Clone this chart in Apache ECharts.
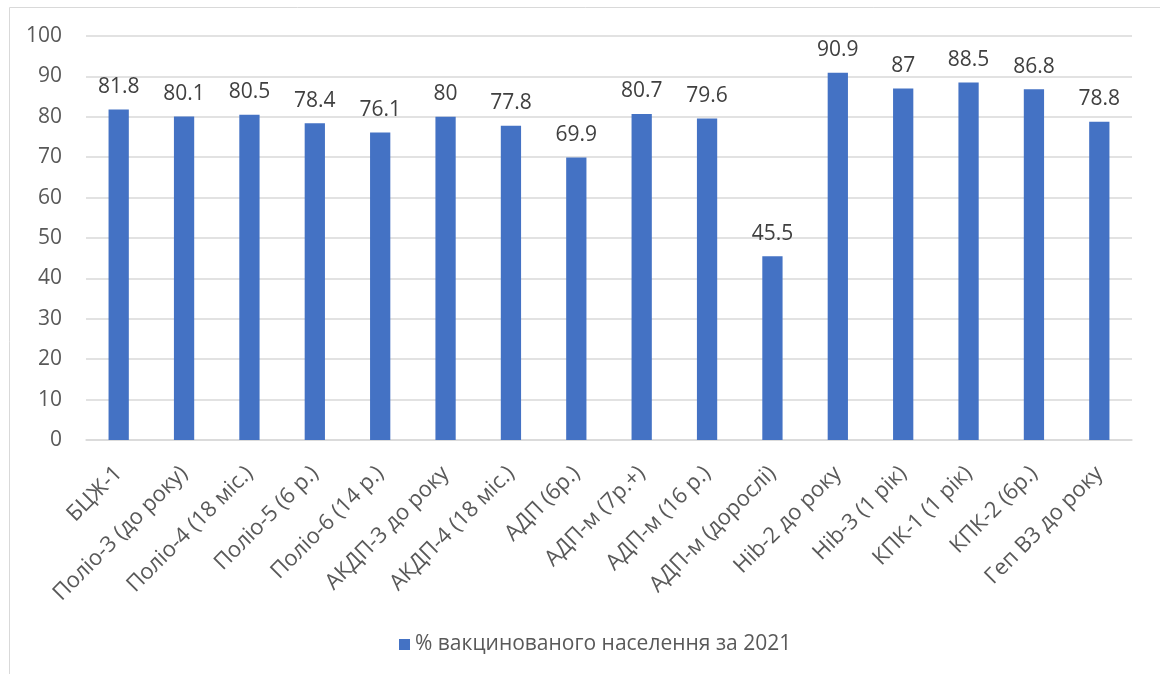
<!DOCTYPE html>
<html>
<head>
<meta charset="utf-8">
<script src="https://cdn.jsdelivr.net/npm/echarts@6/dist/echarts.min.js"></script>
<style>html,body{margin:0;padding:0;background:#fff}#c{width:1160px;height:674px}</style>
</head>
<body>
<div id="c"></div>
<script>
const categories = ['БЦЖ-1','Поліо-3 (до року)','Поліо-4 (18 міс.)','Поліо-5 (6 р.)','Поліо-6 (14 р.)','АКДП-3 до року','АКДП-4 (18 міс.)','АДП (6р.)','АДП-м (7р.+)','АДП-м (16 р.)','АДП-м (дорослі)','Hib-2 до року','Hib-3 (1 рік)','КПК-1 (1 рік)','КПК-2 (6р.)','Геп В3 до року'];
const values = [81.8,80.1,80.5,78.4,76.1,80,77.8,69.9,80.7,79.6,45.5,90.9,87,88.5,86.8,78.8];
const seriesName = '% вакцинованого населення за 2021';
const yTicks = [0,10,20,30,40,50,60,70,80,90,100];

const font = '"Open Sans", "Noto Sans", sans-serif';
const chart = echarts.init(document.getElementById('c'), null, {renderer:'canvas'});
chart.setOption({
  animation: false,
  textStyle: {fontFamily: font},
  graphic: [{type:'rect', shape:{x:9.5,y:7.5,width:1200,height:700}, style:{fill:'none', stroke:'#D9D9D9', lineWidth:1}, silent:true}],
  grid: {left:86, right:28, top:36, bottom:234},
  legend: {
    top: 629, left: 394,
    itemWidth: 11, itemHeight: 11, itemGap: 8,
    icon: 'rect',
    textStyle: {color:'#595959', fontSize:21, fontFamily: font},
    data: [seriesName]
  },
  xAxis: {
    type: 'category', data: categories,
    axisLine: {lineStyle:{color:'#D9D9D9', width:1.5}},
    axisTick: {show:false},
    axisLabel: {rotate:45, color:'#595959', fontSize:22, fontFamily: font, interval:0, margin:30}
  },
  yAxis: {
    type: 'value', min: yTicks[0], max: yTicks[yTicks.length-1], interval: 10,
    axisLine: {show:false}, axisTick: {show:false},
    splitLine: {lineStyle:{color:'#D9D9D9', width:1.5}},
    axisLabel: {color:'#595959', fontSize:21, fontFamily: font, margin:24}
  },
  series: [{
    name: seriesName, type: 'bar', data: values, barWidth: '31%',
    itemStyle: {color:'#4472C4'},
    label: {show:true, position:'top', distance:12, color:'#404040', fontSize:21, fontFamily: font}
  }]
});
</script>
</body>
</html>
